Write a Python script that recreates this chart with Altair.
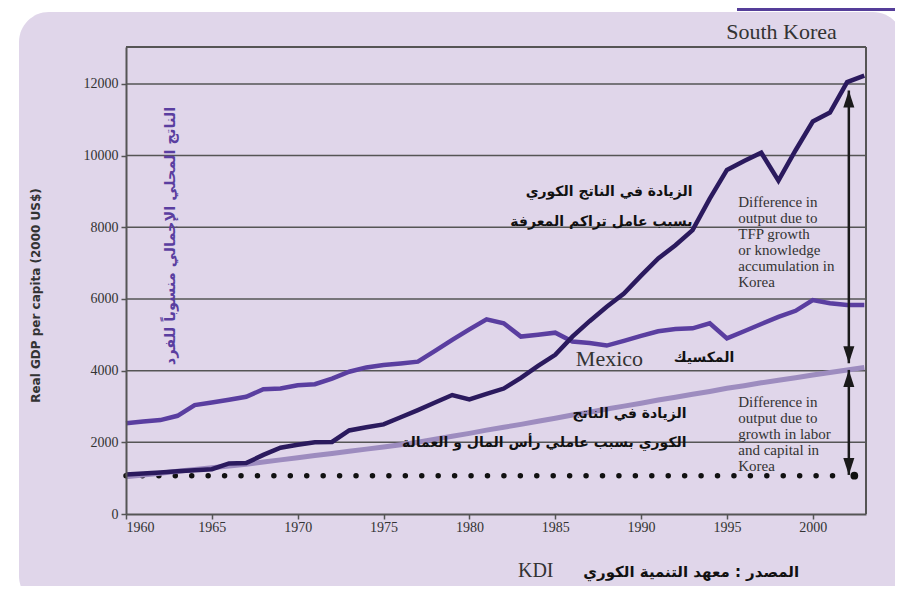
import altair as alt
import pandas as pd

# ---------------- data ----------------
years = list(range(1960, 2004))
korea_gdp = [1100, 1130, 1160, 1190, 1220, 1250, 1410, 1420, 1650, 1850,
             1930, 2000, 2010, 2330, 2420, 2500, 2700, 2900, 3110, 3320,
             3200, 3350, 3500, 3800, 4130, 4440, 4950, 5380, 5780, 6150,
             6650, 7130, 7500, 7920, 8800, 9600, 9850, 10080, 9300, 10150,
             10950, 11200, 12050, 12230]
mexico_gdp = [2530, 2580, 2620, 2740, 3040, 3110, 3190, 3270, 3480, 3500,
              3590, 3620, 3780, 3970, 4090, 4160, 4200, 4250, 4550, 4860,
              5150, 5430, 5320, 4950, 5000, 5060, 4810, 4770, 4700, 4830,
              4970, 5100, 5160, 5180, 5320, 4900, 5100, 5300, 5500, 5670,
              5970, 5880, 5830, 5830]
korea_capital_labor = [1040, 1090, 1140, 1190, 1240, 1290, 1340, 1390, 1450, 1510,
                       1570, 1630, 1690, 1750, 1810, 1870, 1930, 2000, 2090, 2170,
                       2250, 2340, 2420, 2500, 2590, 2670, 2760, 2840, 2930, 3010,
                       3090, 3180, 3260, 3340, 3420, 3510, 3580, 3660, 3730, 3800,
                       3880, 3950, 4020, 4090]
x_ticks = [1960, 1965, 1970, 1975, 1980, 1985, 1990, 1995, 2000]
y_ticks = [0, 2000, 4000, 6000, 8000, 10000, 12000]
grid_values = [2000, 4000, 6000, 8000, 10000, 12000]
baseline_level = 1070          # Korea 1960 level (dotted line)
baseline_years = [1960, 2001.5]
arrow_year = 2002.1
arrow_upper = [11815, 4205]
arrow_lower = [4020, 1090]
end_dot = [2002.42, 1070]

# ---------------- style ----------------
W, H = 740, 467
LAV = "#e0d6ea"
SERIF = "Liberation Serif"
ARAB = "DejaVu Sans"
TXT = "#333333"

xs = alt.Scale(domain=[1960, 2003.1], nice=False, zero=False)
ys = alt.Scale(domain=[0, 13030], nice=False, zero=False)
xaxis = alt.Axis(values=x_ticks, format="d", labelFont=SERIF, labelFontSize=14,
                 labelColor=TXT, tickColor="#555", tickSize=5, tickWidth=1.5,
                 domainColor="#555", domainWidth=2, labelPadding=1, grid=False,
                 title=None, zindex=1)
yaxis = alt.Axis(values=y_ticks, format="d", labelFont=SERIF, labelFontSize=14,
                 labelColor=TXT, tickColor="#555", tickSize=5, tickWidth=1.5,
                 domainColor="#555", domainWidth=2, labelPadding=3, grid=False,
                 title="Real GDP per capita (2000 US$)", titleFont="DejaVu Sans",
                 titleFontWeight="bold", titleFontSize=12, titleColor=TXT,
                 titleX=-84, titleY=248, titleAngle=270, zindex=1)


def X(f="year"):
    return alt.X(f"{f}:Q", scale=xs, axis=xaxis)


def Y(f="gdp"):
    return alt.Y(f"{f}:Q", scale=ys, axis=yaxis)


one = pd.DataFrame({"a": [0]})

panel = alt.Chart(one).mark_rect(fill=LAV, cornerRadius=30).encode(
    x=alt.value(-107), x2=alt.value(777), y=alt.value(-35), y2=alt.value(559))
block = alt.Chart(one).mark_rect(fill="#553e99").encode(
    x=alt.value(611), x2=alt.value(790), y=alt.value(-50), y2=alt.value(-36))

grid = alt.Chart(pd.DataFrame({"gdp": grid_values})).mark_rule(
    color="#555", strokeWidth=1.5).encode(y=Y())
frame_top = alt.Chart(one).mark_rule(color="#555", strokeWidth=2).encode(
    x=alt.value(0), x2=alt.value(W), y=alt.value(0))
frame_right = alt.Chart(one).mark_rule(color="#555", strokeWidth=2).encode(
    x=alt.value(W), y=alt.value(0), y2=alt.value(H))

dots = alt.Chart(pd.DataFrame({"year": [baseline_years[0]], "year2": [baseline_years[1]],
                               "gdp": [baseline_level]})).mark_rule(
    color="#111", strokeWidth=5.5, strokeCap="round", strokeDash=[0.001, 16.43]
).encode(x=X(), x2="year2:Q", y=Y())


def line(vals, color, width):
    df = pd.DataFrame({"year": years, "gdp": vals})
    return alt.Chart(df).mark_line(color=color, strokeWidth=width).encode(x=X(), y=Y())


light = line(korea_capital_labor, "#9d8cbf", 5)
mexico = line(mexico_gdp, "#5a3ea0", 4.5)
korea = line(korea_gdp, "#2b1a5e", 4.5)

arr_df = pd.DataFrame({"year": [arrow_year, arrow_year],
                       "gdp": [arrow_upper[0], arrow_lower[0]],
                       "gdp2": [arrow_upper[1], arrow_lower[1]]})
stems = alt.Chart(arr_df).mark_rule(color="#1a1a1a", strokeWidth=2.5).encode(
    x=X(), y=Y(), y2="gdp2:Q")
up_heads = alt.Chart(pd.DataFrame({"year": [arrow_year] * 2,
                                   "gdp": [arrow_upper[0], arrow_lower[0]]})).mark_point(
    shape="M-0.65,2L0.65,2L0,0Z", size=289, filled=True, opacity=1,
    color="#1a1a1a").encode(x=X(), y=Y())
down_heads = alt.Chart(pd.DataFrame({"year": [arrow_year] * 2,
                                     "gdp": [arrow_upper[1], arrow_lower[1]]})).mark_point(
    shape="M-0.65,-2L0.65,-2L0,0Z", size=289, filled=True, opacity=1,
    color="#1a1a1a").encode(x=X(), y=Y())
big_dot = alt.Chart(pd.DataFrame({"year": [end_dot[0]], "gdp": [end_dot[1]]})).mark_point(
    shape="circle", size=60, filled=True, opacity=1, color="#111").encode(x=X(), y=Y())


def label(text, year, gdp, **kw):
    df = pd.DataFrame({"year": [year], "gdp": [gdp], "t": [text]})
    return alt.Chart(df).mark_text(**kw).encode(x=X(), y=Y(), text="t:N")


texts = [
    label("South Korea", 2001.4, 13242, font=SERIF, fontSize=22, color=TXT,
          align="right", baseline="alphabetic"),
    label("الناتج المحلي الإجمالي منسوباً للفرد", 1962.65, 7758, font=ARAB,
          fontSize=14.5, fontWeight="bold", color="#5a3ea0", angle=270,
          align="center", baseline="middle"),
    label("الزيادة في الناتج الكوري", 1993.0, 8995, font=ARAB, fontSize=14,
          fontWeight="bold", color="#111", align="right", baseline="middle"),
    label("بسبب عامل تراكم المعرفة", 1993.0, 8158, font=ARAB, fontSize=14,
          fontWeight="bold", color="#111", align="right", baseline="middle"),
    label("Mexico", 1986.2, 4130, font=SERIF, fontSize=22, color=TXT,
          align="left", baseline="alphabetic"),
    label("المكسيك", 1995.43, 4354, font=ARAB, fontSize=14, fontWeight="bold",
          color="#111", align="right", baseline="middle"),
    label("الزيادة في الناتج", 1992.65, 2782, font=ARAB, fontSize=14,
          fontWeight="bold", color="#111", align="right", baseline="middle"),
    label("الكوري بسبب عاملي رأس المال و العمالة", 1992.65, 1973, font=ARAB,
          fontSize=14, fontWeight="bold", color="#111", align="right",
          baseline="middle"),
    label("Difference in\noutput due to\nTFP growth\nor knowledge\naccumulation in\nKorea",
          1995.66, 8576, font=SERIF, fontSize=15, color=TXT, align="left",
          baseline="alphabetic", lineBreak="\n", lineHeight=16),
    label("Difference in\noutput due to\ngrowth in labor\nand capital in\nKorea",
          1995.66, 2995, font=SERIF, fontSize=15, color=TXT, align="left",
          baseline="alphabetic", lineBreak="\n", lineHeight=16),
    label("المصدر : معهد التنمية الكوري", 1999.2, -1770, font=ARAB, fontSize=15,
          fontWeight="bold", color="#111", align="right", baseline="alphabetic"),
    label("KDI", 1984.9, -1770, font=SERIF, fontSize=20, color=TXT,
          align="right", baseline="alphabetic"),
]

chart = alt.layer(
    panel, block, grid, frame_top, frame_right, dots, light, mexico, korea,
    stems, up_heads, down_heads, big_dot, *texts
).properties(
    width=W, height=H,
    autosize=alt.AutoSizeParams(type="none"),
    padding={"left": 118, "top": 39, "right": 29, "bottom": 72},
    background="white",
).configure_view(stroke=None, fill=None)

chart.save("out.html", embed_options={"renderer": "svg", "actions": False})
